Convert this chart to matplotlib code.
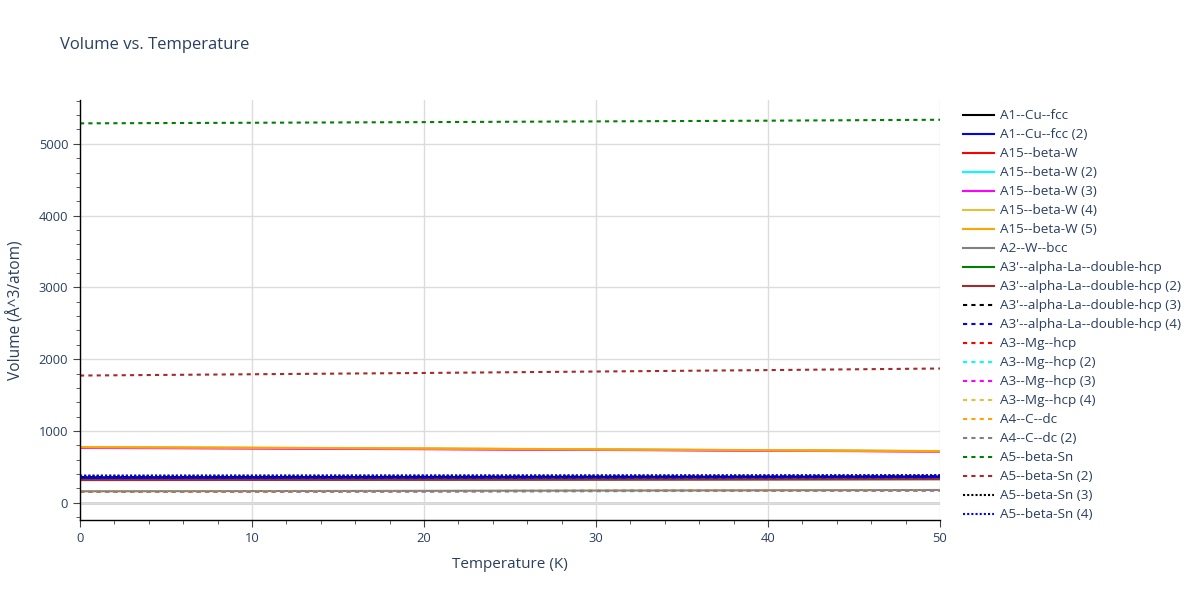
import numpy as np
import matplotlib.pyplot as plt

plt.rcParams['font.family'] = ['Open Sans', 'DejaVu Sans']
plt.rcParams['figure.facecolor'] = 'white'

# temperature samples (K)
temps = [0, 10, 20, 30, 40, 50]

names = ["A1--Cu--fcc", "A1--Cu--fcc (2)", "A15--beta-W", "A15--beta-W (2)",
         "A15--beta-W (3)", "A15--beta-W (4)", "A15--beta-W (5)", "A2--W--bcc",
         "A3'--alpha-La--double-hcp", "A3'--alpha-La--double-hcp (2)",
         "A3'--alpha-La--double-hcp (3)", "A3'--alpha-La--double-hcp (4)",
         "A3--Mg--hcp", "A3--Mg--hcp (2)", "A3--Mg--hcp (3)", "A3--Mg--hcp (4)",
         "A4--C--dc", "A4--C--dc (2)", "A5--beta-Sn", "A5--beta-Sn (2)",
         "A5--beta-Sn (3)", "A5--beta-Sn (4)"]

# volumes (A^3/atom)
vol_a1 = [355, 357, 359, 361, 363, 366]
vol_a1_2 = [340, 342, 344, 346, 348, 351]
vol_a15 = [768, 760, 750, 739, 728, 716]
vol_a15_2 = [772, 764, 754, 743, 732, 719]
vol_a15_3 = [764, 756, 746, 736, 725, 713]
vol_a15_4 = [777, 768, 757, 745, 733, 720]
vol_a15_5 = [774, 765, 755, 743, 731, 718]
vol_a2 = [160, 163, 166, 170, 174, 178]
vol_a3p = [318, 320, 322, 324, 327, 330]
vol_a3p_2 = [316, 318, 320, 322, 325, 328]
vol_a3p_3 = [358, 360, 362, 364, 366, 369]
vol_a3p_4 = [345, 347, 349, 351, 353, 356]
vol_a3 = [155, 158, 162, 166, 171, 176]
vol_a3_2 = [150, 153, 157, 161, 165, 170]
vol_a3_3 = [152, 155, 159, 163, 167, 172]
vol_a3_4 = [157, 160, 164, 168, 172, 177]
vol_a4 = [156, 159, 163, 167, 172, 178]
vol_a4_2 = [154, 157, 161, 165, 169, 174]
vol_a5 = [5285, 5293, 5302, 5312, 5322, 5335]
vol_a5_2 = [1772, 1790, 1808, 1828, 1848, 1870]
vol_a5_3 = [378, 379, 380, 381, 382, 384]
vol_a5_4 = [374, 375, 376, 377, 378, 380]

volumes = [vol_a1, vol_a1_2, vol_a15, vol_a15_2, vol_a15_3, vol_a15_4, vol_a15_5,
           vol_a2, vol_a3p, vol_a3p_2, vol_a3p_3, vol_a3p_4, vol_a3, vol_a3_2,
           vol_a3_3, vol_a3_4, vol_a4, vol_a4_2, vol_a5, vol_a5_2, vol_a5_3, vol_a5_4]

palette = ['#000000', '#0000ff', '#ff0000', '#00ffff', '#ff00ff',
           '#e8c038', '#ffa500', '#808080', '#008000', '#a52a2a']

text_c = '#2a3f5f'

fig = plt.figure(figsize=(12, 6), dpi=100)
ax = fig.add_axes([80 / 1200, 80 / 600, 860 / 1200, 420 / 600])

for i, (nm, v) in enumerate(zip(names, volumes)):
    c = palette[i % 10]
    if i < 10:
        ls = '-'
    elif i < 20:
        ls = (0, (2, 2))
    else:
        ls = (0, (1, 1))
    ax.plot(temps, v, color=c, lw=1.5, ls=ls, label=nm)

ax.set_xlim(0, 50)
ax.set_ylim(-240, 5610)
ax.set_xticks([0, 10, 20, 30, 40, 50])
ax.set_xticks(np.arange(0, 51, 2), minor=True)
ax.set_yticks([0, 1000, 2000, 3000, 4000, 5000])
ax.set_yticks(np.arange(-200, 5601, 200), minor=True)
ax.grid(True, which='major', color='#dcdcdc', lw=1)
ax.axhline(0, color='#d0d0d0', lw=2, zorder=0.5)
ax.set_axisbelow(True)

for s in ['top', 'right']:
    ax.spines[s].set_visible(False)
for s in ['left', 'bottom']:
    ax.spines[s].set_color('black')
    ax.spines[s].set_linewidth(1)
ax.tick_params(which='major', length=5, color='#444444', labelcolor=text_c, labelsize=9.3)
ax.tick_params(which='minor', length=3, color='#444444')

ax.set_xlabel('Temperature (K)', color=text_c, fontsize=11, labelpad=9)
ax.set_ylabel('Volume (Å^3/atom)', color=text_c, fontsize=11.2, labelpad=10)
fig.text(60 / 1200, 1 - 45 / 600, 'Volume vs. Temperature', color=text_c,
         fontsize=12, va='center', ha='left')

fig.legend(loc='upper left', bbox_to_anchor=(958 / 1200, 1 - 104 / 600),
           frameon=False, fontsize=9.7, labelcolor=text_c, handlelength=2.3,
           labelspacing=0.445, handletextpad=0.45, borderaxespad=0)

fig.savefig('out.png', dpi=100)
